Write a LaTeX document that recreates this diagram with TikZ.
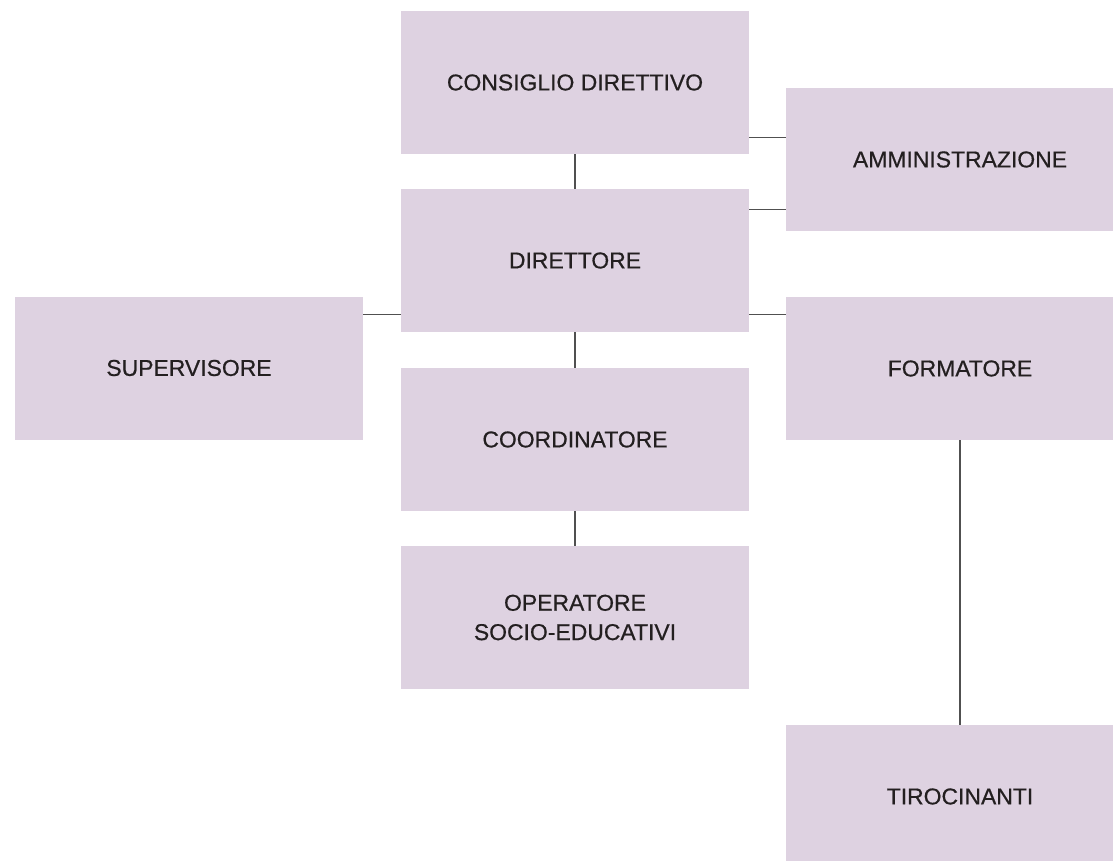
\documentclass[tikz,border=0pt]{standalone}
\usepackage{fontspec}
\setmainfont[FakeBold=0.6]{Liberation Sans}
\usepackage{tikz}
\usepackage{xcolor}
\usetikzlibrary{positioning}
\definecolor{lilac}{RGB}{222,210,225}
\definecolor{ink}{RGB}{35,31,32}
\definecolor{linegray}{RGB}{80,80,80}

\begin{document}
\begin{tikzpicture}[x=0.75pt,y=0.75pt]
\tikzstyle{every node}+=[inner sep=0pt]
\tikzstyle{role}=[fill=lilac, text=ink, minimum width=261pt, minimum height=107.25pt, align=center, font=\fontsize{17.2}{22}\selectfont]
\tikzstyle{wire}=[draw=linegray, line width=1pt]
\useasboundingbox (0,0) rectangle (1113,-860);
\node [role] (cons) at (575,-82.5) {CONSIGLIO DIRETTIVO};
\node [role] (amm) at (960,-159.5) {AMMINISTRAZIONE};
\node [role] (dir) at (575,-260.5) {DIRETTORE};
\node [role] (sup) at (189,-368) {SUPERVISORE};
\node [role] (form) at (960,-368.5) {FORMATORE};
\node [role] (coord) at (575,-439.5) {COORDINATORE};
\node [role] (oper) at (575,-617.5) {OPERATORE\\SOCIO-EDUCATIVI};
\node [role] (tiro) at (960,-796.5) {TIROCINANTI};
\coordinate (k1) at ([yshift=12.75pt]cons.south east);
\coordinate (k2) at ([yshift=-15.75pt]dir.north east);
\coordinate (k3) at ([yshift=13.5pt]dir.south west);
\coordinate (k4) at ([yshift=13.5pt]dir.south east);
\draw [wire] (cons) -- (dir);
\draw [wire] (dir) -- (coord);
\draw [wire] (coord) -- (oper);
\draw [wire] (form) -- (tiro);
\draw [wire] (k1) -- (k1 -| amm.west);
\draw [wire] (k2) -- (k2 -| amm.west);
\draw [wire] (k3) -- (k3 -| sup.east);
\draw [wire] (k4) -- (k4 -| form.west);
\end{tikzpicture}
\end{document}
